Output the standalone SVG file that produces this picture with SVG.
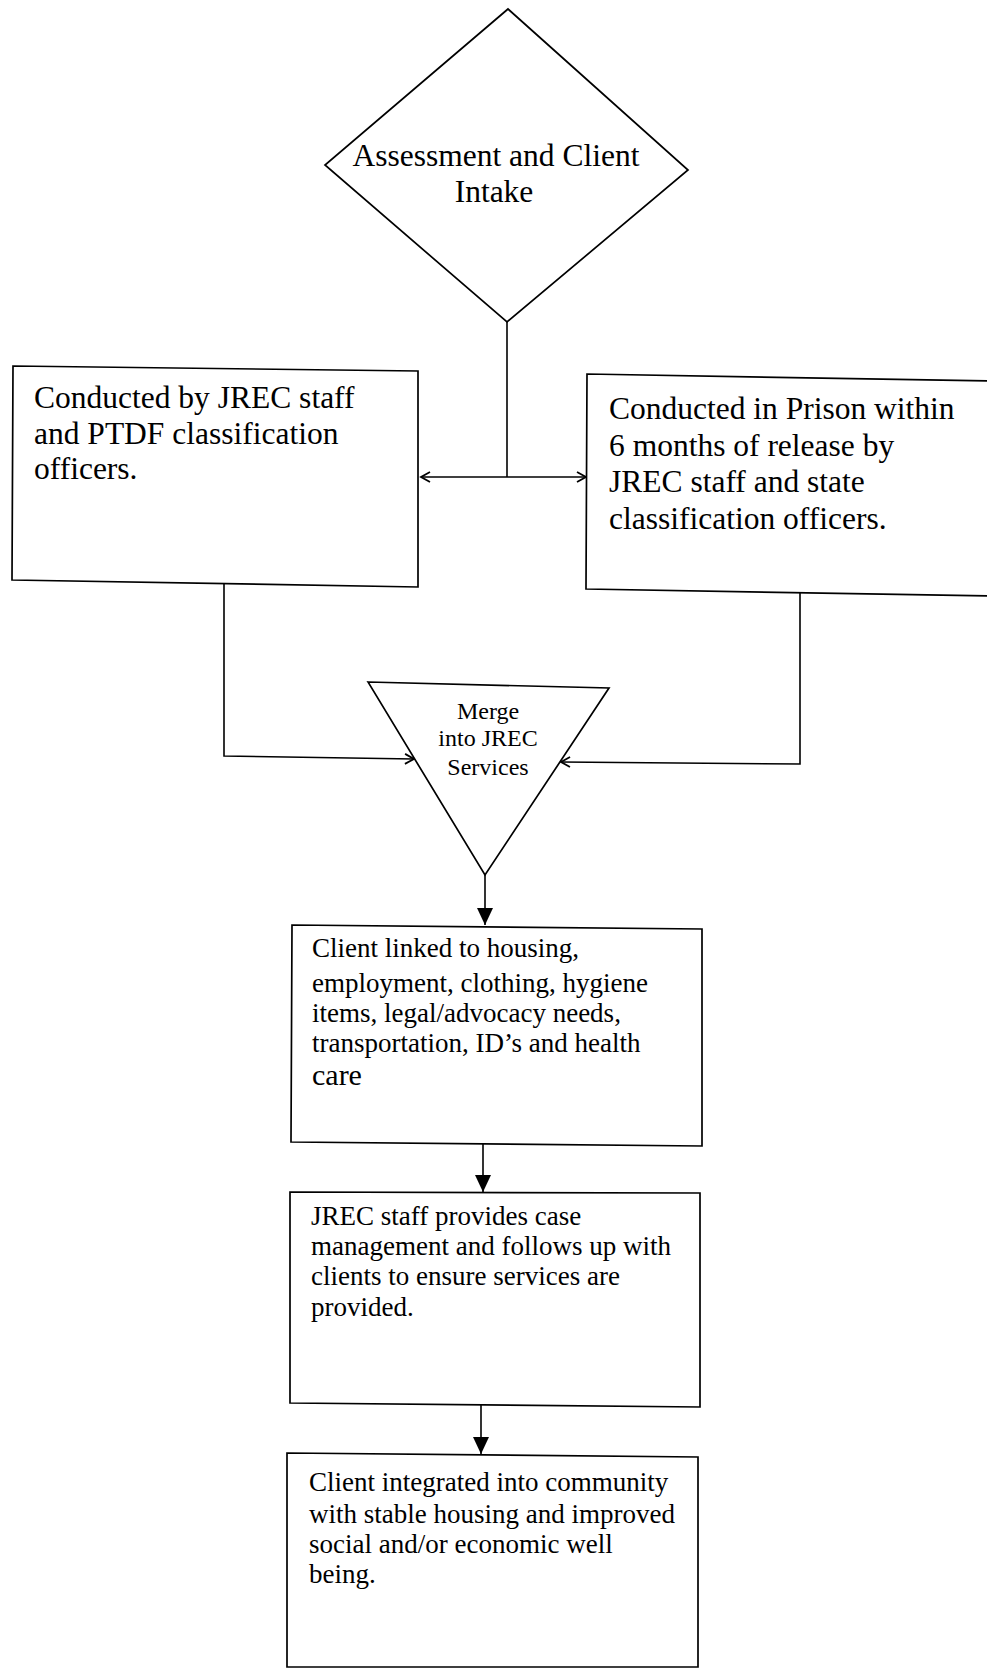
<svg xmlns="http://www.w3.org/2000/svg" width="987" height="1670" viewBox="0 0 987 1670">
<style>
.shape{fill:#fff;stroke:#000;stroke-width:1.7;stroke-linejoin:miter}
.open{fill:none;stroke:#000;stroke-width:1.7}
.conn{fill:none;stroke:#000;stroke-width:1.6}
text{font-family:"Liberation Serif","Times New Roman",serif;fill:#000}
.big{font-size:31.5px}
.mid{font-size:27px}
.small{font-size:24px}
</style>
<defs>
<marker id="chev" markerUnits="userSpaceOnUse" markerWidth="14" markerHeight="14" refX="10" refY="6" orient="auto">
<path d="M1,1 L10,6 L1,11" fill="none" stroke="#000" stroke-width="1.8"/>
</marker>
<marker id="solid" markerUnits="userSpaceOnUse" markerWidth="20" markerHeight="18" refX="17" refY="8" orient="auto">
<path d="M0,0 L17,8 L0,16 Z" fill="#000"/>
</marker>
</defs>
<g id="connectors">
<line class="conn" x1="507" y1="322" x2="507" y2="477"/>
<line class="conn" x1="507" y1="477" x2="421" y2="477" marker-end="url(#chev)"/>
<line class="conn" x1="507" y1="477" x2="586" y2="477" marker-end="url(#chev)"/>
<polyline class="conn" points="224,584 224,756 414,759" marker-end="url(#chev)"/>
<polyline class="conn" points="800,593 800,764 561,762" marker-end="url(#chev)"/>
<line class="conn" x1="485" y1="875" x2="485" y2="925" marker-end="url(#solid)"/>
<line class="conn" x1="483" y1="1144" x2="483" y2="1192" marker-end="url(#solid)"/>
<line class="conn" x1="481" y1="1405" x2="481" y2="1454" marker-end="url(#solid)"/>
</g>
<g id="assessment">
<polygon class="shape" points="508,9 688,170 507,322 325,165"/>
<text class="big" x="496" y="166" text-anchor="middle">Assessment and Client</text>
<text class="big" x="494" y="202" text-anchor="middle">Intake</text>
</g>
<g id="ptdf">
<polygon class="shape" points="13,366 418,371 418,587 12,580"/>
<text class="big" x="34" y="408">Conducted by JREC staff</text>
<text class="big" x="34" y="444">and PTDF classification</text>
<text class="big" x="34" y="479">officers.</text>
</g>
<g id="prison">
<polygon points="587,374 990,381 990,596 586,589" fill="#fff" stroke="none"/>
<polyline class="open" points="990,381 587,374 586,589 990,596"/>
<text class="big" x="609" y="419">Conducted in Prison within</text>
<text class="big" x="609" y="456">6 months of release by</text>
<text class="big" x="609" y="492">JREC staff and state</text>
<text class="big" x="609" y="529">classification officers.</text>
</g>
<g id="merge">
<polygon class="shape" points="368,682 609,688 485,875"/>
<text class="small" x="488" y="719" text-anchor="middle">Merge</text>
<text class="small" x="488" y="746" text-anchor="middle">into JREC</text>
<text class="small" x="488" y="775" text-anchor="middle">Services</text>
</g>
<g id="linked">
<polygon class="shape" points="292,925 702,929 702,1146 291,1142"/>
<text class="mid" x="312" y="957">Client linked to housing,</text>
<text class="mid" x="312" y="992">employment, clothing, hygiene</text>
<text class="mid" x="312" y="1022">items, legal/advocacy needs,</text>
<text class="mid" x="312" y="1052">transportation, ID’s and health</text>
<text x="312" y="1085" style="font-size:30px">care</text>
</g>
<g id="casemgmt">
<polygon class="shape" points="290,1192 700,1193 700,1407 290,1403"/>
<text class="mid" x="311" y="1225">JREC staff provides case</text>
<text class="mid" x="311" y="1255">management and follows up with</text>
<text class="mid" x="311" y="1285">clients to ensure services are</text>
<text class="mid" x="311" y="1316">provided.</text>
</g>
<g id="integrated">
<polygon class="shape" points="287,1453 698,1457 698,1667 287,1667"/>
<text class="mid" x="309" y="1491">Client integrated into community</text>
<text class="mid" x="309" y="1523">with stable housing and improved</text>
<text class="mid" x="309" y="1553">social and/or economic well</text>
<text class="mid" x="309" y="1583">being.</text>
</g>
</svg>
